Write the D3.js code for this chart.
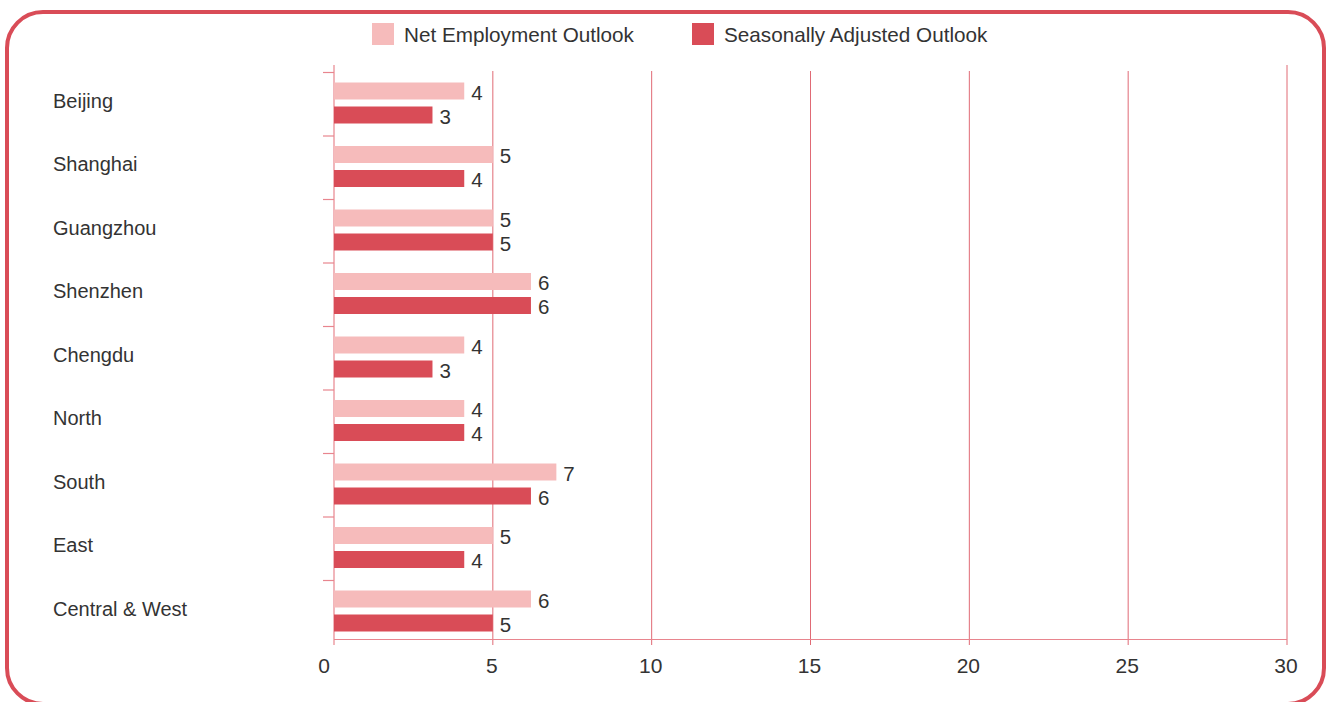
<!DOCTYPE html>
<html>
<head>
<meta charset="utf-8">
<script src="https://cdn.jsdelivr.net/npm/d3@7"></script>
<style>
  html, body { margin: 0; padding: 0; background: #fff; }
  svg { display: block; }
  text { font-family: "Liberation Sans", Arial, Helvetica, sans-serif; fill: #333; }
</style>
</head>
<body>
<svg id="chart" width="1333" height="702"></svg>
<script>
// ---- Data ----
const categories = ["Beijing", "Shanghai", "Guangzhou", "Shenzhen", "Chengdu", "North", "South", "East", "Central & West"];
const seriesNames = ["Net Employment Outlook", "Seasonally Adjusted Outlook"];
const netOutlook = [4.1, 5, 5, 6.2, 4.1, 4.1, 7, 5, 6.2];
const seasonalOutlook = [3.1, 4.1, 5, 6.2, 3.1, 4.1, 6.2, 4.1, 5];
const netLabels = [4, 5, 5, 6, 4, 4, 7, 5, 6];
const seasonalLabels = [3, 4, 5, 6, 3, 4, 6, 4, 5];
const xTicks = [0, 5, 10, 15, 20, 25, 30];
const colors = ["#f6bbbb", "#d94c57"];

const svg = d3.select("#chart");

// frame
svg.append("rect")
  .attr("x", 7).attr("y", 12)
  .attr("width", 1317).attr("height", 692)
  .attr("rx", 36).attr("ry", 36)
  .attr("fill", "none")
  .attr("stroke", "#d94c57")
  .attr("stroke-width", 4);

const x = d3.scaleLinear().domain([0, 30]).range([334, 1287]);
const y = d3.scaleBand().domain(categories).range([72, 643.5]);
const sub = d3.scaleBand().domain(seriesNames).range([10.5, 51.5]).paddingInner(7 / 24);

// gridlines
svg.append("g").selectAll("line")
  .data(xTicks.filter(d => d > 0))
  .join("line")
  .attr("x1", d => x(d)).attr("x2", d => x(d))
  .attr("y1", d => d === 30 ? 65 : 71).attr("y2", 645)
  .attr("stroke", "#e06a75").attr("stroke-width", 1);

// x axis line
svg.append("line")
  .attr("x1", 334).attr("x2", 1287)
  .attr("y1", 639.5).attr("y2", 639.5)
  .attr("stroke", "#e8858e").attr("stroke-width", 1.2);

// y axis line
svg.append("line")
  .attr("x1", 334).attr("x2", 334)
  .attr("y1", 65).attr("y2", 645)
  .attr("stroke", "#e8858e").attr("stroke-width", 1.2);

// y ticks
svg.append("g").selectAll("line")
  .data(categories)
  .join("line")
  .attr("x1", 323).attr("x2", 334)
  .attr("y1", d => y(d) + 0.5).attr("y2", d => y(d) + 0.5)
  .attr("stroke", "#e8858e").attr("stroke-width", 1.2);

// x tick labels
svg.append("g").selectAll("text")
  .data(xTicks)
  .join("text")
  .attr("x", d => x(d) - (d === 0 ? 10 : 1))
  .attr("y", 673)
  .attr("text-anchor", "middle")
  .attr("font-size", 21)
  .text(d => d);

// category labels
svg.append("g").selectAll("text")
  .data(categories)
  .join("text")
  .attr("x", 53)
  .attr("y", d => y(d) + y.bandwidth() / 2 - 3)
  .attr("dominant-baseline", "central")
  .attr("font-size", 20)
  .text(d => d);

// bars
const rows = categories.map((c, i) => ({
  cat: c,
  vals: [
    { s: seriesNames[0], v: netOutlook[i], label: netLabels[i] },
    { s: seriesNames[1], v: seasonalOutlook[i], label: seasonalLabels[i] }
  ]
}));

const g = svg.append("g").selectAll("g")
  .data(rows)
  .join("g")
  .attr("transform", d => `translate(0,${y(d.cat)})`);

g.selectAll("rect")
  .data(d => d.vals)
  .join("rect")
  .attr("x", x(0))
  .attr("y", d => sub(d.s))
  .attr("width", d => x(d.v) - x(0))
  .attr("height", sub.bandwidth())
  .attr("fill", (d, i) => colors[i]);

g.selectAll("text")
  .data(d => d.vals)
  .join("text")
  .attr("x", d => x(d.v) + 7)
  .attr("y", d => sub(d.s) + sub.bandwidth() / 2 + 1)
  .attr("dominant-baseline", "central")
  .attr("font-size", 20.5)
  .text(d => d.label);

// legend
const legendX = [372, 692];
const leg = svg.append("g").selectAll("g")
  .data(seriesNames)
  .join("g")
  .attr("transform", (d, i) => `translate(${legendX[i]},23)`);
leg.append("rect")
  .attr("width", 22).attr("height", 22)
  .attr("fill", (d, i) => colors[i]);
leg.append("text")
  .attr("x", 32).attr("y", 11)
  .attr("dominant-baseline", "central")
  .attr("font-size", 20.7)
  .text(d => d);
</script>
</body>
</html>
